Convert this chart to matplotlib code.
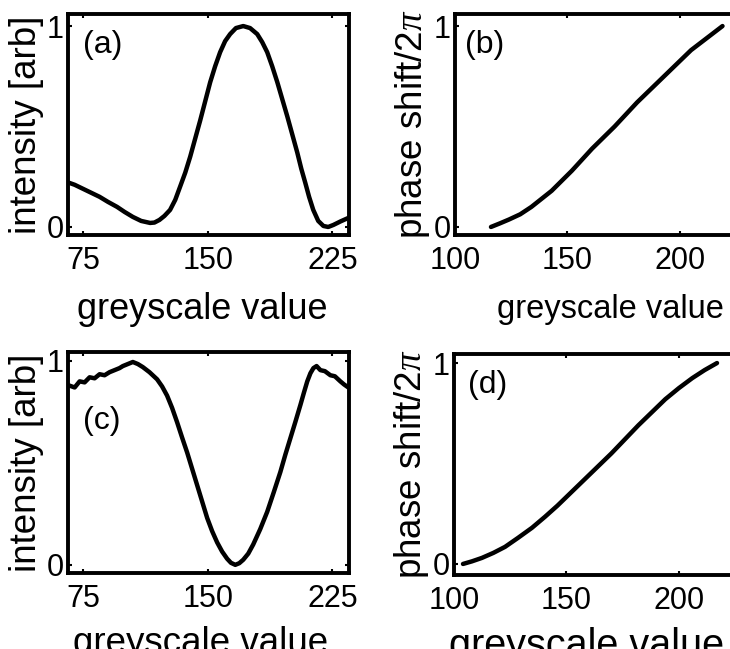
import numpy as np
import matplotlib
matplotlib.use("Agg")
import matplotlib.pyplot as plt

plt.rcParams['font.family'] = ['Liberation Sans', 'DejaVu Sans']
plt.rcParams['mathtext.fontset'] = 'custom'
plt.rcParams['mathtext.it'] = 'Liberation Serif:italic'

# (a) intensity vs greyscale, first modulator setting
grey_a = [66.6, 70, 75, 80, 85, 90, 95.5, 100, 105, 110, 115.4, 118, 121, 124,
          127.4, 130.5, 133.4, 136.5, 139.5, 142.5, 145.5, 148.5, 151.5, 154.5,
          157.5, 160.5, 163.5, 167, 171.4, 175.5, 179.8, 182.8, 185.8, 188.8,
          191.9, 194.9, 197.9, 200.9, 203.9, 206.3, 208.7, 211, 213.5, 216.5,
          219.6, 222.5, 225.6, 230, 234.6]
int_a = [0.22, 0.21, 0.19, 0.17, 0.15, 0.125, 0.10, 0.075, 0.05, 0.03, 0.02, 0.022,
         0.035, 0.055, 0.085, 0.135, 0.20, 0.27, 0.35, 0.44, 0.53, 0.625, 0.72, 0.80,
         0.87, 0.925, 0.96, 0.99, 1.0, 0.99, 0.96, 0.92, 0.87, 0.80, 0.72, 0.635,
         0.55, 0.46, 0.37, 0.29, 0.22, 0.15, 0.085, 0.03, 0.005, 0.0, 0.01, 0.028,
         0.045]

# (b) phase shift extracted from (a)
grey_b = [116, 120, 124, 129, 134, 138.5, 143, 147.5, 152, 156.5, 161, 166, 171,
          176, 181, 187, 193, 199, 205, 212, 219]
phase_b = [0.0, 0.018, 0.037, 0.063, 0.10, 0.14, 0.18, 0.23, 0.28, 0.335, 0.39,
           0.445, 0.50, 0.56, 0.62, 0.685, 0.75, 0.815, 0.88, 0.94, 1.0]

# (c) intensity vs greyscale, second modulator setting
grey_c = [66.6, 70, 73, 76, 79, 82, 85, 88, 91, 94, 97, 99, 102, 105, 108, 111,
          115, 119.6, 122.6, 125.6, 128.6, 131.6, 134.6, 137.7, 140.7, 143.7,
          146.7, 149.7, 152.7, 155.7, 158.7, 161.7, 164, 166.6, 169, 171.4, 174.4,
          177.4, 181.6, 185.8, 189.7, 193.7, 196.7, 199.7, 202.7, 205.8, 207.9,
          209.9, 211.8, 213.6, 215.5, 217.8, 220.5, 223.8, 226.5, 229.8, 232, 234.6]
int_c = [0.88, 0.87, 0.90, 0.895, 0.92, 0.915, 0.935, 0.93, 0.945, 0.955, 0.965,
         0.975, 0.985, 0.995, 0.985, 0.97, 0.945, 0.91, 0.875, 0.83, 0.77, 0.70,
         0.625, 0.55, 0.47, 0.39, 0.31, 0.23, 0.165, 0.11, 0.065, 0.03, 0.01, 0.0,
         0.008, 0.025, 0.055, 0.10, 0.175, 0.26, 0.355, 0.455, 0.54, 0.62, 0.70,
         0.785, 0.845, 0.90, 0.94, 0.965, 0.975, 0.955, 0.95, 0.93, 0.925, 0.90,
         0.885, 0.87]

# (d) phase shift extracted from (c)
grey_d = [104, 108, 112.4, 117.5, 122.7, 128.5, 134.7, 140.5, 146, 152, 158, 164,
          170, 176, 182, 188, 194, 200, 206, 211.5, 217]
phase_d = [0.0, 0.013, 0.03, 0.055, 0.085, 0.13, 0.18, 0.235, 0.29, 0.355, 0.42,
           0.485, 0.55, 0.62, 0.69, 0.755, 0.82, 0.875, 0.925, 0.965, 1.0]

panels = [
    ("(a)", grey_a, int_a, (66, 235), [75, 150, 225], "intensity [arb]"),
    ("(b)", grey_b, phase_b, (100, 225), [100, 150, 200], r"phase shift/2$\it{\pi}$"),
    ("(c)", grey_c, int_c, (66, 235), [75, 150, 225], "intensity [arb]"),
    ("(d)", grey_d, phase_d, (100, 225), [100, 150, 200], r"phase shift/2$\it{\pi}$"),
]

W, H = 730, 649
# axes boxes in pixels: left, top, width, height
boxes = [(68, 14, 281, 221), (455, 14, 281, 221),
         (68, 352, 281, 221), (454, 354, 281, 221)]
ylims = [(-0.04, 1.06), (-0.04, 1.06), (-0.04, 1.044), (-0.055, 1.045)]
ylab_x = [-0.149, -0.153, -0.149, -0.153]
xlab_pos = [(0.477, -0.335), (0.552, -0.335), (0.47, -0.32), (0.47, -0.32)]
xlab_size = [26, 23.5, 26.5, 28.5]
tag_pos = [(0.053, 0.86), (0.036, 0.86), (0.053, 0.69), (0.05, 0.86)]

fig = plt.figure(figsize=(W / 100, H / 100), dpi=100)
for i, (tag, xs, ys, xl, xt, ylab) in enumerate(panels):
    l, t, w, h = boxes[i]
    ax = fig.add_axes([l / W, 1 - (t + h) / H, w / W, h / H])
    ax.plot(xs, ys, color="black", lw=3.2, solid_capstyle="round",
            solid_joinstyle="round")
    ax.set_xlim(xl)
    ax.set_ylim(ylims[i])
    ax.set_xticks(xt)
    ax.set_yticks([0, 1])
    ax.tick_params(direction="in", length=3, width=1.5, top=True, right=True,
                   labelsize=22, pad=3)
    ax.tick_params(axis="x", pad=8)
    for s in ax.spines.values():
        s.set_linewidth(2.8)
    ax.set_ylabel(ylab, fontsize=26.5, va="center")
    ax.yaxis.set_label_coords(ylab_x[i], 0.5)
    ax.set_xlabel("greyscale value", fontsize=xlab_size[i], va="center")
    ax.xaxis.set_label_coords(*xlab_pos[i])
    ax.text(tag_pos[i][0], tag_pos[i][1], tag, transform=ax.transAxes,
            fontsize=23, va="center", ha="left")

plt.savefig("out.png", dpi=100)
